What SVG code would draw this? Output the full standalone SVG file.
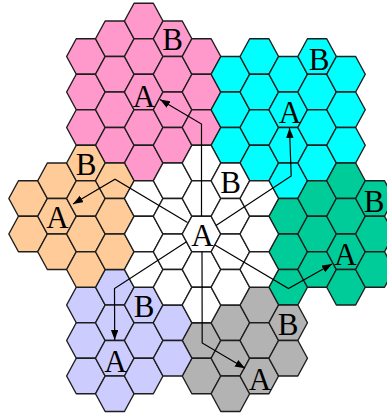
<svg xmlns="http://www.w3.org/2000/svg" xmlns:xlink="http://www.w3.org/1999/xlink" width="387" height="417" viewBox="0 0 387 417">
<style>
.c use{stroke:#1e1e1e;stroke-width:1.4;stroke-linejoin:round}
.pink use{fill:#FF99CC}
.cyan use{fill:#00FFFF}
.green use{fill:#00CC99}
.gray use{fill:#B3B3B3}
.blue use{fill:#CCCCFF}
.orange use{fill:#FFCC99}
.white use{fill:#FFFFFF}
text{font-family:"Liberation Serif","Times New Roman",serif;font-size:31px;text-anchor:middle;fill:#000}
.conn path{fill:none;stroke:#000;stroke-width:1.2}
</style>
<defs>
<polygon id="h" points="-19.27,0 -9.635,-17.75 9.635,-17.75 19.27,0 9.635,17.75 -9.635,17.75"/>
<marker id="ah" markerUnits="userSpaceOnUse" markerWidth="11" markerHeight="8" refX="10" refY="3.75" orient="auto">
<path d="M0,0 L10,3.75 L0,7.5 z" fill="#000"/>
</marker>
</defs>
<rect width="387" height="417" fill="#fff"/>

<g id="cluster-pink" class="c pink">
<use xlink:href="#h" x="85.9" y="56.5"/><use xlink:href="#h" x="85.9" y="92"/><use xlink:href="#h" x="85.9" y="127.5"/>
<use xlink:href="#h" x="114.8" y="38.75"/><use xlink:href="#h" x="114.8" y="74.25"/><use xlink:href="#h" x="114.8" y="109.75"/><use xlink:href="#h" x="114.8" y="145.25"/>
<use xlink:href="#h" x="143.7" y="21"/><use xlink:href="#h" x="143.7" y="56.5"/><use xlink:href="#h" x="143.7" y="92"/><use xlink:href="#h" x="143.7" y="127.5"/><use xlink:href="#h" x="143.7" y="163"/>
<use xlink:href="#h" x="172.6" y="38.75"/><use xlink:href="#h" x="172.6" y="74.25"/><use xlink:href="#h" x="172.6" y="109.75"/><use xlink:href="#h" x="172.6" y="145.25"/>
<use xlink:href="#h" x="201.5" y="56.5"/><use xlink:href="#h" x="201.5" y="92"/><use xlink:href="#h" x="201.5" y="127.5"/>
</g>

<g id="cluster-cyan" class="c cyan">
<use xlink:href="#h" x="230.4" y="74.25"/><use xlink:href="#h" x="230.4" y="109.75"/><use xlink:href="#h" x="230.4" y="145.25"/>
<use xlink:href="#h" x="259.3" y="56.5"/><use xlink:href="#h" x="259.3" y="92"/><use xlink:href="#h" x="259.3" y="127.5"/><use xlink:href="#h" x="259.3" y="163"/>
<use xlink:href="#h" x="288.2" y="74.25"/><use xlink:href="#h" x="288.2" y="109.75"/><use xlink:href="#h" x="288.2" y="145.25"/><use xlink:href="#h" x="288.2" y="180.75"/>
<use xlink:href="#h" x="317.1" y="56.5"/><use xlink:href="#h" x="317.1" y="92"/><use xlink:href="#h" x="317.1" y="127.5"/><use xlink:href="#h" x="317.1" y="163"/>
<use xlink:href="#h" x="346" y="74.25"/><use xlink:href="#h" x="346" y="109.75"/><use xlink:href="#h" x="346" y="145.25"/>
</g>

<g id="cluster-green" class="c green">
<use xlink:href="#h" x="288.2" y="216.25"/><use xlink:href="#h" x="288.2" y="251.75"/><use xlink:href="#h" x="288.2" y="287.25"/>
<use xlink:href="#h" x="317.1" y="198.5"/><use xlink:href="#h" x="317.1" y="234"/><use xlink:href="#h" x="317.1" y="269.5"/>
<use xlink:href="#h" x="346" y="180.75"/><use xlink:href="#h" x="346" y="216.25"/><use xlink:href="#h" x="346" y="251.75"/><use xlink:href="#h" x="346" y="287.25"/>
<use xlink:href="#h" x="374.9" y="198.5"/><use xlink:href="#h" x="374.9" y="234"/><use xlink:href="#h" x="374.9" y="269.5"/>
</g>

<g id="cluster-gray" class="c gray">
<use xlink:href="#h" x="201.5" y="340.5"/><use xlink:href="#h" x="201.5" y="376"/>
<use xlink:href="#h" x="230.4" y="322.75"/><use xlink:href="#h" x="230.4" y="358.25"/><use xlink:href="#h" x="230.4" y="393.75"/>
<use xlink:href="#h" x="259.3" y="305"/><use xlink:href="#h" x="259.3" y="340.5"/><use xlink:href="#h" x="259.3" y="376"/>
<use xlink:href="#h" x="288.2" y="322.75"/><use xlink:href="#h" x="288.2" y="358.25"/>
</g>

<g id="cluster-blue" class="c blue">
<use xlink:href="#h" x="85.9" y="305"/><use xlink:href="#h" x="85.9" y="340.5"/><use xlink:href="#h" x="85.9" y="376"/>
<use xlink:href="#h" x="114.8" y="287.25"/><use xlink:href="#h" x="114.8" y="322.75"/><use xlink:href="#h" x="114.8" y="358.25"/><use xlink:href="#h" x="114.8" y="393.75"/>
<use xlink:href="#h" x="143.7" y="305"/><use xlink:href="#h" x="143.7" y="340.5"/><use xlink:href="#h" x="143.7" y="376"/>
<use xlink:href="#h" x="172.6" y="322.75"/><use xlink:href="#h" x="172.6" y="358.25"/>
</g>

<g id="cluster-orange" class="c orange">
<use xlink:href="#h" x="28.1" y="198.5"/><use xlink:href="#h" x="28.1" y="234"/>
<use xlink:href="#h" x="57" y="180.75"/><use xlink:href="#h" x="57" y="216.25"/><use xlink:href="#h" x="57" y="251.75"/>
<use xlink:href="#h" x="85.9" y="163"/><use xlink:href="#h" x="85.9" y="198.5"/><use xlink:href="#h" x="85.9" y="234"/><use xlink:href="#h" x="85.9" y="269.5"/>
<use xlink:href="#h" x="114.8" y="180.75"/><use xlink:href="#h" x="114.8" y="216.25"/><use xlink:href="#h" x="114.8" y="251.75"/>
</g>

<g id="cluster-center" class="c white">
<use xlink:href="#h" x="143.7" y="198.5"/><use xlink:href="#h" x="143.7" y="234"/><use xlink:href="#h" x="143.7" y="269.5"/>
<use xlink:href="#h" x="172.6" y="180.75"/><use xlink:href="#h" x="172.6" y="216.25"/><use xlink:href="#h" x="172.6" y="251.75"/><use xlink:href="#h" x="172.6" y="287.25"/>
<use xlink:href="#h" x="201.5" y="163"/><use xlink:href="#h" x="201.5" y="198.5"/><use xlink:href="#h" x="201.5" y="234"/><use xlink:href="#h" x="201.5" y="269.5"/><use xlink:href="#h" x="201.5" y="305"/>
<use xlink:href="#h" x="230.4" y="180.75"/><use xlink:href="#h" x="230.4" y="216.25"/><use xlink:href="#h" x="230.4" y="251.75"/><use xlink:href="#h" x="230.4" y="287.25"/>
<use xlink:href="#h" x="259.3" y="198.5"/><use xlink:href="#h" x="259.3" y="234"/><use xlink:href="#h" x="259.3" y="269.5"/>
</g>

<g id="connectors" class="conn">
<path d="M201.5,216.25 L201.5,124 L160,99.5" marker-end="url(#ah)"/>
<path d="M216,225.5 L291.2,176 L289.5,128" marker-end="url(#ah)"/>
<path d="M187.5,222.4 L115,179.3 L73,204" marker-end="url(#ah)"/>
<path d="M215,245 L288.5,288.5 L332,264" marker-end="url(#ah)"/>
<path d="M186.5,241.8 L114.5,288.5 L114.7,340" marker-end="url(#ah)"/>
<path d="M202,251.75 L202.2,343 L245,368.3" marker-end="url(#ah)"/>
</g>

<g id="labels">
<text x="202.5" y="245.5">A</text>
<text x="230.5" y="193">B</text>
<text x="144" y="106.5">A</text>
<text x="172.5" y="50">B</text>
<text x="290" y="123">A</text>
<text x="319" y="70">B</text>
<text x="57.5" y="228">A</text>
<text x="86" y="175">B</text>
<text x="345.5" y="265">A</text>
<text x="374" y="211.5">B</text>
<text x="115.5" y="371.5">A</text>
<text x="144" y="316.5">B</text>
<text x="260" y="390">A</text>
<text x="288" y="335">B</text>
</g>
</svg>
